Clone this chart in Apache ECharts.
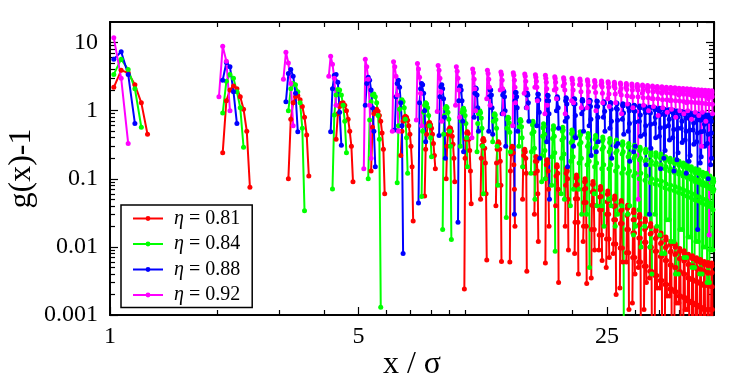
<!DOCTYPE html>
<html>
<head>
<meta charset="utf-8">
<script src="https://cdn.jsdelivr.net/npm/echarts@6/dist/echarts.min.js"></script>
<style>
  html, body { margin: 0; padding: 0; background: #fff; }
  #chart { width: 747px; height: 374px; }
</style>
</head>
<body>
<div id="chart"></div>
<script>
// g(x)-1 sampled every 0.05 sigma; each peak = [first x, values...]
// points where g(x)-1 <= 0 are not drawn on the log scale, so each peak stands alone
const xStep = 0.05

const peaks081 = [
  [1.025, 2.2, 3.9, 3.6, 2.4, 1.3, 0.45],
  [2.075, 0.24, 1.4, 2.0, 2.3, 2.1, 1.6, 1.05, 0.5, 0.075],
  [3.175, 0.1, 0.75, 1.3, 1.6, 1.65, 1.45, 1.15, 0.8, 0.44, 0.11],
  [4.325, 0.38, 0.9, 1.15, 1.28, 1.3, 1.2, 1.0, 0.75, 0.5, 0.3, 0.09],
  [5.425, 0.13, 0.57, 0.9, 1.02, 1.05, 0.98, 0.85, 0.7, 0.47, 0.27, 0.06],
  [6.575, 0.22, 0.5, 0.7, 0.8, 0.83, 0.8, 0.72, 0.6, 0.45, 0.3, 0.15, 0.024],
  [7.675, 0.056, 0.27, 0.45, 0.6, 0.66, 0.67, 0.62, 0.55, 0.45, 0.33, 0.22, 0.14],
  [8.825, 0.1, 0.3, 0.45, 0.53, 0.56, 0.55, 0.5, 0.42, 0.32, 0.2, 0.09],
  [9.925, 0.0024, 0.2, 0.38, 0.47, 0.49, 0.46, 0.38, 0.26, 0.13, 0.043],
  [11.025, 0.05, 0.2, 0.31, 0.37, 0.39, 0.36, 0.28, 0.17, 0.06, 0.0064],
  [12.175, 0.04, 0.17, 0.27, 0.33, 0.35, 0.33, 0.27, 0.18, 0.08, 0.0061],
  [13.325, 0.006, 0.13, 0.23, 0.28, 0.3, 0.29, 0.24, 0.16, 0.07, 0.02],
  [14.475, 0.05, 0.15, 0.22, 0.26, 0.27, 0.25, 0.2, 0.12, 0.0044],
  [15.625, 0.03, 0.12, 0.18, 0.21, 0.21, 0.18, 0.13, 0.06, 0.012],
  [16.775, 0.0058, 0.1, 0.16, 0.185, 0.19, 0.17, 0.13, 0.07, 0.02],
  [17.925, 0.04, 0.11, 0.15, 0.16, 0.15, 0.12, 0.07, 0.003],
  [19.075, 0.02, 0.08, 0.12, 0.14, 0.144, 0.13, 0.1, 0.05, 0.009],
  [20.275, 0.008, 0.023, 0.051, 0.08, 0.103, 0.114, 0.105, 0.082, 0.051, 0.023, 0.004],
  [21.425, 0.012, 0.02, 0.045, 0.07, 0.09, 0.1, 0.092, 0.072, 0.045, 0.02, 0.0029],
  [22.575, 0.0035, 0.018, 0.041, 0.064, 0.082, 0.091, 0.084, 0.066, 0.041, 0.018, 0.009],
  [23.725, 0.009, 0.015, 0.035, 0.054, 0.069, 0.077, 0.071, 0.055, 0.035, 0.015, 0.0063],
  [24.875, 0.005, 0.013, 0.03, 0.046, 0.059, 0.066, 0.061, 0.048, 0.03, 0.013, 0.007],
  [26.025, 0.008, 0.011, 0.025, 0.039, 0.05, 0.056, 0.052, 0.04, 0.025, 0.011, 0.002],
  [27.175, 0.0025, 0.0096, 0.022, 0.034, 0.043, 0.048, 0.044, 0.035, 0.022, 0.0096, 0.006],
  [28.325, 0.006, 0.0082, 0.018, 0.029, 0.037, 0.041, 0.038, 0.03, 0.018, 0.0082, 0.0012],
  [29.475, 0.0015, 0.007, 0.016, 0.025, 0.032, 0.035, 0.032, 0.025, 0.016, 0.007, 0.004],
  [30.625, 0.005, 0.006, 0.0135, 0.021, 0.027, 0.03, 0.028, 0.022, 0.0135, 0.006, 0.0009],
  [31.775, 0.0012, 0.0052, 0.0117, 0.018, 0.023, 0.026, 0.024, 0.019, 0.0117, 0.0052, 0.003],
  [32.925, 0.0035, 0.0044, 0.0099, 0.0154, 0.02, 0.022, 0.02, 0.0158, 0.0099, 0.0044, 0.0007],
  [34.075, 0.0009, 0.0038, 0.0086, 0.0133, 0.0171, 0.019, 0.0175, 0.0137, 0.0086, 0.0038, 0.0025],
  [35.225, 0.0025, 0.0032, 0.0072, 0.0112, 0.0144, 0.016, 0.0147, 0.0115, 0.0072, 0.0032, 0.0005],
  [36.375, 0.0006, 0.0028, 0.0063, 0.0098, 0.0126, 0.014, 0.0129, 0.0101, 0.0063, 0.0028, 0.0019],
  [37.525, 0.0019, 0.0024, 0.0054, 0.0084, 0.0108, 0.012, 0.011, 0.0086, 0.0054, 0.0024, 0.0004],
  [38.675, 0.0004, 0.0022, 0.005, 0.0077, 0.0099, 0.011, 0.0101, 0.0079, 0.005, 0.0022, 0.0015],
  [39.825, 0.0015, 0.0019, 0.0043, 0.0067, 0.0086, 0.0095, 0.0087, 0.0068, 0.0043, 0.0019, 0.0003],
  [40.975, 0.0003, 0.0018, 0.004, 0.0062, 0.0079, 0.0088, 0.0081, 0.0063, 0.004, 0.0018, 0.0012],
  [42.125, 0.0012, 0.0016, 0.0035, 0.0055, 0.007, 0.0078, 0.0072, 0.0056, 0.0035, 0.0016, 0.0002],
  [43.275, 0.0002, 0.0015, 0.0033, 0.0052, 0.0067, 0.0074, 0.0068, 0.0053, 0.0033, 0.0015, 0.0009],
  [44.425, 0.0009, 0.0014, 0.0031, 0.0048, 0.0062, 0.0069, 0.0063, 0.005, 0.0031, 0.0014, 0.0002],
  [45.575, 0.0002, 0.0013, 0.0029, 0.0046, 0.0059, 0.0065, 0.006, 0.0047, 0.0029, 0.0013, 0.0007],
  [46.725, 0.0007, 0.0012, 0.0027, 0.0043, 0.0055, 0.0061, 0.0056, 0.0044, 0.0027, 0.0012, 0.0001],
  [47.875, 0.0001, 0.0012, 0.0027, 0.0041, 0.0053, 0.0059, 0.0054, 0.0042, 0.0027, 0.0012, 0.0006],
  [49.025, 0.0006, 0.0012, 0.0026, 0.0041, 0.0052, 0.0058, 0.0053, 0.0042, 0.0026, 0.0012, 0.0001]
]

const peaks084 = [
  [1.025, 3.4, 5.7, 4.0, 2.1, 0.57],
  [2.075, 0.92, 2.7, 3.4, 3.0, 1.9, 1.1, 0.29],
  [3.175, 1.0, 2.1, 2.5, 2.4, 1.9, 1.3, 0.55, 0.034],
  [4.225, 0.071, 0.86, 1.7, 2.05, 2.0, 1.7, 1.2, 0.7, 0.24],
  [5.325, 0.1, 0.73, 1.35, 1.7, 1.75, 1.6, 1.3, 0.85, 0.38, 0.0013],
  [6.425, 0.087, 0.6, 1.05, 1.35, 1.45, 1.35, 1.1, 0.75, 0.4, 0.12],
  [7.525, 0.055, 0.5, 0.95, 1.2, 1.3, 1.25, 1.1, 0.85, 0.6, 0.4, 0.21],
  [8.625, 0.018, 0.45, 0.85, 1.08, 1.15, 1.1, 0.95, 0.75, 0.5, 0.3, 0.0128],
  [9.675, 0.3, 0.7, 0.95, 1.05, 1.08, 1.0, 0.85, 0.65, 0.4, 0.15],
  [10.775, 0.25, 0.65, 0.9, 0.98, 1.0, 0.93, 0.78, 0.55, 0.3, 0.06],
  [11.925, 0.35, 0.7, 0.86, 0.9, 0.86, 0.74, 0.55, 0.3, 0.08],
  [13.025, 0.027, 0.55, 0.75, 0.8, 0.77, 0.66, 0.48, 0.25],
  [14.125, 0.3, 0.58, 0.71, 0.74, 0.7, 0.58, 0.4, 0.15],
  [15.275, 0.12, 0.25, 0.46, 0.62, 0.7, 0.64, 0.49, 0.28, 0.05],
  [16.375, 0.09, 0.22, 0.42, 0.56, 0.64, 0.59, 0.45, 0.26, 0.1],
  [17.475, 0.08, 0.21, 0.39, 0.53, 0.6, 0.55, 0.42, 0.24, 0.0086],
  [18.575, 0.06, 0.2, 0.37, 0.5, 0.57, 0.52, 0.4, 0.23, 0.05],
  [19.725, 0.04, 0.18, 0.34, 0.46, 0.52, 0.48, 0.36, 0.21, 0.07],
  [20.825, 0.07, 0.17, 0.32, 0.43, 0.49, 0.45, 0.34, 0.2, 0.03],
  [21.925, 0.03, 0.16, 0.3, 0.4, 0.46, 0.42, 0.32, 0.18, 0.005],
  [23.025, 0.06, 0.15, 0.28, 0.38, 0.43, 0.4, 0.3, 0.17, 0.04],
  [24.125, 0.04, 0.14, 0.27, 0.36, 0.41, 0.38, 0.29, 0.16, 0.02],
  [25.275, 0.05, 0.14, 0.25, 0.34, 0.39, 0.36, 0.27, 0.16, 0.04],
  [26.375, 0.02, 0.13, 0.24, 0.33, 0.37, 0.34, 0.26, 0.15, 0.03],
  [27.475, 0.04, 0.12, 0.23, 0.31, 0.35, 0.32, 0.25, 0.14, 0.0007],
  [28.575, 0.03, 0.12, 0.21, 0.29, 0.33, 0.3, 0.23, 0.13, 0.04],
  [29.675, 0.015, 0.11, 0.2, 0.27, 0.31, 0.29, 0.22, 0.12, 0.02],
  [30.775, 0.035, 0.1, 0.19, 0.26, 0.29, 0.27, 0.2, 0.12, 0.01],
  [31.925, 0.02, 0.095, 0.18, 0.24, 0.27, 0.25, 0.19, 0.11, 0.03],
  [33.025, 0.01, 0.088, 0.16, 0.22, 0.25, 0.23, 0.18, 0.1, 0.004],
  [34.125, 0.03, 0.084, 0.16, 0.21, 0.24, 0.22, 0.17, 0.096, 0.02],
  [35.225, 0.015, 0.08, 0.15, 0.2, 0.23, 0.21, 0.16, 0.092, 0.008],
  [36.325, 0.008, 0.074, 0.14, 0.185, 0.21, 0.19, 0.15, 0.084, 0.025],
  [37.425, 0.025, 0.07, 0.13, 0.176, 0.2, 0.184, 0.14, 0.08, 0.012],
  [38.575, 0.012, 0.067, 0.124, 0.167, 0.19, 0.175, 0.133, 0.076, 0.004],
  [39.675, 0.004, 0.063, 0.117, 0.158, 0.18, 0.166, 0.126, 0.072, 0.018],
  [40.775, 0.018, 0.06, 0.11, 0.15, 0.17, 0.156, 0.119, 0.068, 0.007],
  [41.875, 0.007, 0.056, 0.104, 0.141, 0.16, 0.147, 0.112, 0.064, 0.014],
  [42.975, 0.014, 0.053, 0.098, 0.132, 0.15, 0.138, 0.105, 0.06, 0.005],
  [44.075, 0.005, 0.049, 0.091, 0.123, 0.14, 0.129, 0.098, 0.056, 0.012],
  [45.175, 0.012, 0.047, 0.088, 0.119, 0.135, 0.124, 0.095, 0.054, 0.004],
  [46.275, 0.004, 0.044, 0.081, 0.11, 0.125, 0.115, 0.088, 0.05, 0.01],
  [47.425, 0.01, 0.042, 0.078, 0.106, 0.12, 0.11, 0.084, 0.048, 0.003],
  [48.525, 0.003, 0.039, 0.072, 0.097, 0.11, 0.101, 0.077, 0.044, 0.009],
  [49.625, 0.009, 0.035, 0.065, 0.088, 0.1, 0.092, 0.07]
]

const peaks088 = [
  [1.025, 5.7, 7.3, 3.4, 0.65],
  [2.075, 2.8, 5.1, 4.4, 1.9, 0.65],
  [3.125, 1.35, 3.5, 4.0, 3.2, 1.8, 0.49],
  [4.175, 0.49, 2.1, 3.3, 3.4, 2.6, 0.95, 0.31],
  [5.225, 1.2, 2.5, 3.1, 2.8, 2.0, 1.1, 0.5, 0.15],
  [6.325, 0.52, 1.6, 2.5, 2.8, 2.2, 1.3, 0.6, 0.008],
  [7.375, 0.044, 1.3, 2.1, 2.5, 2.4, 1.8, 1.0, 0.35],
  [8.425, 0.43, 1.6, 2.25, 2.4, 2.1, 1.5, 0.8, 0.2],
  [9.525, 0.023, 1.4, 2.2, 2.3, 2.0, 1.4, 0.7, 0.25],
  [10.575, 0.8, 1.8, 2.15, 2.1, 1.7, 1.1, 0.5],
  [11.625, 0.5, 1.6, 2.0, 2.0, 1.7, 1.1, 0.45],
  [12.675, 0.9, 1.7, 1.95, 1.9, 1.6, 1.0, 0.3],
  [13.725, 0.03, 1.4, 1.85, 1.85, 1.6, 1.1, 0.5],
  [14.825, 1.1, 1.7, 1.8, 1.7, 1.3, 0.7],
  [15.875, 0.6, 1.5, 1.75, 1.72, 1.45, 0.95, 0.2],
  [16.925, 0.35, 1.4, 1.68, 1.66, 1.4, 0.9, 0.05],
  [18.025, 1.0, 1.55, 1.6, 1.5, 1.1, 0.55],
  [19.075, 0.7, 1.4, 1.55, 1.5, 1.25, 0.8, 0.15],
  [20.125, 0.3, 1.25, 1.5, 1.47, 1.25, 0.85, 0.4],
  [21.225, 0.9, 1.4, 1.46, 1.38, 1.05, 0.5],
  [22.275, 0.6, 1.3, 1.42, 1.38, 1.15, 0.75, 0.22],
  [23.325, 0.25, 1.15, 1.38, 1.36, 1.15, 0.8, 0.35],
  [24.425, 0.8, 1.28, 1.35, 1.27, 0.98, 0.5],
  [25.475, 0.55, 1.2, 1.32, 1.28, 1.05, 0.7, 0.2],
  [26.525, 0.3, 1.08, 1.29, 1.26, 1.05, 0.72, 0.33],
  [27.625, 0.75, 1.2, 1.26, 1.18, 0.92, 0.45],
  [28.675, 0.5, 1.12, 1.23, 1.2, 1.0, 0.65, 0.18],
  [29.725, 0.25, 1.0, 1.2, 1.18, 0.98, 0.68, 0.3],
  [30.825, 0.7, 1.12, 1.17, 1.1, 0.86, 0.42],
  [31.875, 0.45, 1.05, 1.15, 1.12, 0.93, 0.6, 0.16],
  [32.925, 0.03, 0.95, 1.12, 1.1, 0.92, 0.63, 0.28],
  [34.025, 0.65, 1.05, 1.1, 1.03, 0.8, 0.4],
  [35.075, 0.42, 0.98, 1.08, 1.05, 0.87, 0.56, 0.14],
  [36.125, 0.2, 0.9, 1.05, 1.03, 0.86, 0.58, 0.26],
  [37.225, 0.6, 0.98, 1.03, 0.96, 0.75, 0.37],
  [38.275, 0.4, 0.92, 1.01, 0.98, 0.82, 0.53, 0.13],
  [39.325, 0.19, 0.85, 0.99, 0.97, 0.8, 0.55, 0.24],
  [40.425, 0.55, 0.92, 0.97, 0.9, 0.7, 0.34],
  [41.475, 0.37, 0.86, 0.95, 0.92, 0.77, 0.5, 0.12],
  [42.525, 0.18, 0.8, 0.93, 0.91, 0.76, 0.52, 0.22],
  [43.625, 0.52, 0.87, 0.91, 0.85, 0.66, 0.32],
  [44.675, 0.35, 0.82, 0.9, 0.87, 0.73, 0.47, 0.018],
  [45.725, 0.17, 0.76, 0.88, 0.86, 0.72, 0.49, 0.21],
  [46.825, 0.5, 0.83, 0.87, 0.81, 0.63, 0.3],
  [47.875, 0.33, 0.78, 0.86, 0.84, 0.7, 0.45, 0.1],
  [48.925, 0.16, 0.73, 0.85, 0.83, 0.69, 0.47, 0.2]
]

const peaks092 = [
  [1.025, 11.7, 3.0, 0.33],
  [2.025, 1.6, 8.8, 5.3, 1.0],
  [3.075, 2.9, 7.2, 5.0, 2.5, 0.6],
  [4.125, 3.2, 6.3, 4.8, 3.0, 1.2],
  [5.175, 0.14, 5.7, 4.4, 2.9, 1.2, 0.2],
  [6.225, 0.5, 5.2, 4.4, 3.2, 1.7, 0.5],
  [7.275, 0.73, 4.9, 4.1, 3.1, 1.8, 0.6],
  [8.325, 0.97, 4.6, 3.9, 3.0, 1.9, 0.7],
  [9.375, 1.2, 4.4, 3.8, 3.0, 2.0, 0.8],
  [10.425, 0.4, 4.1, 3.6, 2.9, 2.1, 1.0],
  [11.475, 1.5, 3.9, 3.5, 2.9, 2.2, 1.2],
  [12.525, 2.0, 3.7, 3.4, 2.8, 2.1, 0.9],
  [13.575, 0.6, 3.6, 3.3, 2.8, 2.2, 1.3],
  [14.625, 1.8, 3.45, 3.2, 2.7, 2.1, 1.1],
  [15.675, 2.2, 3.35, 3.1, 2.7, 2.2, 1.4],
  [16.725, 0.9, 3.3, 3.0, 2.6, 2.1, 1.2],
  [17.775, 2.0, 3.15, 2.95, 2.6, 2.1, 1.5],
  [18.825, 2.3, 3.05, 2.85, 2.5, 2.0, 0.9],
  [19.875, 1.4, 2.98, 2.8, 2.45, 2.0, 1.3],
  [20.925, 2.4, 2.92, 2.72, 2.4, 1.9, 1.1],
  [21.975, 1.1, 2.85, 2.66, 2.35, 1.9, 1.35],
  [23.025, 2.2, 2.78, 2.6, 2.3, 1.85, 1.0],
  [24.075, 2.4, 2.72, 2.55, 2.25, 1.8, 1.3],
  [25.125, 1.5, 2.66, 2.5, 2.2, 1.75, 1.15],
  [26.175, 2.3, 2.6, 2.45, 2.15, 1.75, 1.3],
  [27.225, 1.9, 2.55, 2.4, 2.1, 1.7, 0.9],
  [28.275, 2.2, 2.5, 2.35, 2.05, 1.65, 1.25],
  [29.325, 1.6, 2.46, 2.3, 2.0, 1.6, 1.1],
  [30.375, 2.2, 2.42, 2.27, 2.0, 1.6, 0.05],
  [31.425, 1.8, 2.38, 2.24, 1.97, 1.55, 1.2],
  [32.475, 2.1, 2.34, 2.2, 1.93, 1.55, 1.0],
  [33.525, 1.5, 2.3, 2.16, 1.9, 1.5, 1.15],
  [34.575, 2.0, 2.27, 2.13, 1.87, 1.5, 0.85],
  [35.625, 1.8, 2.24, 2.1, 1.85, 1.45, 1.1],
  [36.675, 2.0, 2.21, 2.08, 1.82, 1.45, 0.95],
  [37.725, 1.4, 2.18, 2.05, 1.8, 1.42, 1.05],
  [38.775, 1.9, 2.16, 2.03, 1.78, 1.4, 0.8],
  [39.825, 1.7, 2.13, 2.0, 1.76, 1.38, 1.0],
  [40.875, 1.9, 2.11, 1.98, 1.74, 1.36, 0.9],
  [41.925, 1.3, 2.09, 1.96, 1.72, 1.35, 1.0],
  [42.975, 1.8, 2.07, 1.95, 1.7, 1.33, 0.75],
  [44.025, 1.6, 2.05, 1.93, 1.68, 1.32, 0.95],
  [45.075, 1.8, 2.03, 1.91, 1.67, 1.3, 0.85],
  [46.125, 0.3, 2.01, 1.89, 1.65, 1.28, 0.95],
  [47.175, 1.7, 1.99, 1.87, 1.63, 1.27, 0.7],
  [48.225, 1.5, 1.97, 1.85, 1.62, 1.25, 0.015],
  [49.275, 1.7, 1.95, 1.83, 1.6, 1.24, 0.9]
]

const seriesNames = ['η = 0.81', 'η = 0.84', 'η = 0.88', 'η = 0.92']
const seriesColors = ['#ff0000', '#00ff00', '#0000ff', '#ff00ff']
const seriesPeaks = [peaks081, peaks084, peaks088, peaks092]

const xMin = 1
const xMax = 50
const yMin = 0.001
const yMax = 20
const xMinorTicks = [2, 3, 4, 6, 7, 8, 9, 10, 15, 20, 30, 35, 40, 45]
const yDecades = [0.001, 0.01, 0.1, 1, 10]
const yMinorSteps = [2, 3, 4, 5, 6, 7, 8, 9]

const font = 'Liberation Serif, Times New Roman, serif'

// flatten the peaks into [x, y] pairs, with a break after each peak
function toPoints(peaks) {
  const pts = []
  peaks.forEach((p) => {
    let x = p[0]
    for (let i = 1; i < p.length; i++) {
      x = +(p[0] + (i - 1) * xStep).toFixed(3)
      pts.push([x, p[i]])
    }
    pts.push([x + xStep, '-'])
  })
  return pts
}

const log5 = (v) => Math.log(v) / Math.log(5)
const yMinorTicks = []
yDecades.forEach((d) => {
  yMinorSteps.forEach((m) => {
    if (d * m < yMax) yMinorTicks.push(d * m)
  })
})

const frameLine = { show: true, onZero: false, lineStyle: { color: '#000', width: 1.5 } }
const tickLine = { color: '#000', width: 1.2 }

function majorX(position, showLabel) {
  return {
    type: 'log', logBase: 5, min: xMin, max: xMax, position: position,
    axisLine: frameLine,
    axisTick: { show: true, inside: true, length: 8, lineStyle: tickLine },
    axisLabel: { show: showLabel, showMaxLabel: false, color: '#000', fontFamily: font, fontSize: 24, margin: 10 },
    splitLine: { show: false }
  }
}
function minorX(position) {
  return {
    type: 'value', min: 0, max: log5(xMax), position: position,
    axisLine: frameLine,
    axisTick: { show: true, inside: true, length: 5, lineStyle: tickLine, customValues: xMinorTicks.map(log5) },
    axisLabel: { show: false },
    splitLine: { show: false }
  }
}
function majorY(position, showLabel) {
  return {
    type: 'log', logBase: 10, min: yMin, max: yMax, position: position,
    axisLine: frameLine,
    axisTick: { show: true, inside: true, length: 8, lineStyle: tickLine },
    axisLabel: { show: showLabel, color: '#000', fontFamily: font, fontSize: 24, margin: 12 },
    splitLine: { show: false }
  }
}
function minorY(position) {
  return {
    type: 'value', min: Math.log10(yMin), max: Math.log10(yMax), position: position,
    axisLine: frameLine,
    axisTick: { show: true, inside: true, length: 5, lineStyle: tickLine, customValues: yMinorTicks.map(Math.log10) },
    axisLabel: { show: false },
    splitLine: { show: false }
  }
}

const xBottom = majorX('bottom', true)
xBottom.name = 'x / σ'
xBottom.nameLocation = 'middle'
xBottom.nameGap = 34
xBottom.nameMoveOverlap = false
xBottom.nameTextStyle = { color: '#000', fontFamily: font, fontSize: 32 }

const yLeft = majorY('left', true)
yLeft.name = 'g(x)-1'
yLeft.nameLocation = 'middle'
yLeft.nameGap = 72
yLeft.nameMoveOverlap = false
yLeft.nameTextStyle = { color: '#000', fontFamily: font, fontSize: 32 }

const chart = echarts.init(document.getElementById('chart'), null, { renderer: 'canvas' })

const option = {
  animation: false,
  backgroundColor: '#fff',
  grid: {
    left: 110, right: 33, top: 22, bottom: 59,
    outerBoundsMode: 'none', containLabel: false,
    show: true, borderColor: '#000', borderWidth: 1.5, backgroundColor: 'transparent'
  },
  legend: {
    left: 121, top: 205, orient: 'vertical',
    backgroundColor: '#fff', borderColor: '#000', borderWidth: 1.5, borderRadius: 0,
    padding: [1, 12, 0, 11], itemGap: 0.5, itemWidth: 30, itemHeight: 6,
    data: seriesNames,
    formatter: (name) => '{i|η}{t|' + name.slice(1) + '}',
    textStyle: {
      color: '#000', fontFamily: font, fontSize: 20, lineHeight: 25, padding: [0, 0, 0, 6],
      rich: {
        i: { fontStyle: 'italic', fontFamily: font, fontSize: 20, lineHeight: 25 },
        t: { fontFamily: font, fontSize: 20, lineHeight: 25 }
      }
    }
  },
  xAxis: [xBottom, minorX('bottom'), majorX('top', false), minorX('top')],
  yAxis: [yLeft, minorY('left'), majorY('right', false), minorY('right')],
  series: seriesNames.map((name, k) => ({
    name: name,
    type: 'line',
    xAxisIndex: 0,
    yAxisIndex: 0,
    data: toPoints(seriesPeaks[k]),
    connectNulls: false,
    symbol: 'circle',
    symbolSize: 5,
    showSymbol: true,
    showAllSymbol: true,
    clip: true,
    color: seriesColors[k],
    lineStyle: { width: 2, color: seriesColors[k] },
    itemStyle: { color: seriesColors[k] },
    emphasis: { disabled: true }
  }))
}

chart.setOption(option)
</script>
</body>
</html>
